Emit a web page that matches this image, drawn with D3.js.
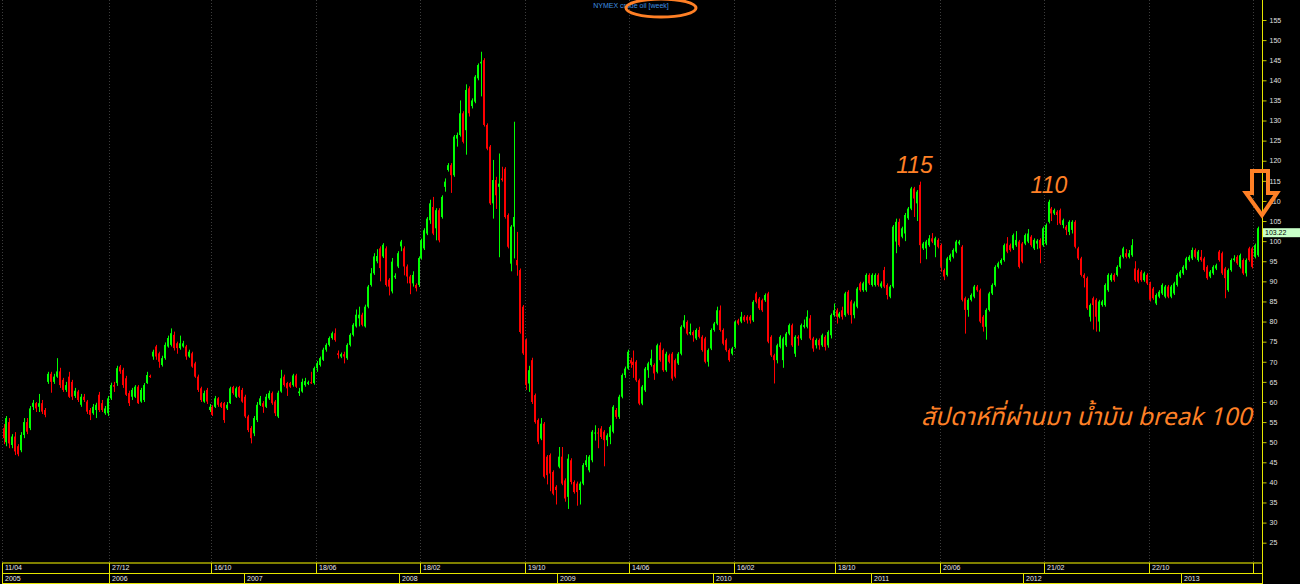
<!DOCTYPE html>
<html><head><meta charset="utf-8">
<script src="https://cdn.jsdelivr.net/npm/d3@7"></script>
<style>html,body{margin:0;padding:0;background:#000;overflow:hidden}svg{display:block}</style>
</head><body><svg id="c" width="1300" height="584"></svg>
<script>
// ---------- DATA (weekly NYMEX crude oil) ----------
const openP=[53.5,50,55,49.3,51.4,49,48,51.8,55,53.5,58.8,59.7,58.8,59.7,58,65,67,65,66.3,67.6,
65.5,63,66.3,65,61.5,62.6,59.3,61.3,60.1,58,57.2,58,61.8,59.7,57.2,57.2,60.9,64.2,64.7,68.8,
68,65.9,62.2,61.3,61.3,63.8,60.1,60.5,64.7,66.5,71.3,73.8,72.1,69.2,70.9,73.8,74.2,76.7,74.6,73.4,
73.8,73.8,71.3,72.1,69.6,66.3,63.4,60.1,63,58,58.8,58.8,60.9,59.7,59.7,58.4,59.7,63.7,61.3,63.7,
63,61.3,56.4,53.5,52.2,55.5,59.3,59.7,58.8,60.9,62.2,60.1,56.4,62.6,66.3,64.7,64.7,64.2,66.6,62.2,
62.6,64.2,64.5,64.9,64.7,68.4,69.2,70.5,73,74.2,75.9,77.1,72.1,71.3,71.9,70.9,74.2,76.7,78.8,80.8,
81.7,78.8,83.7,89.1,92,95,98.2,96.2,98.2,90.4,87.5,91,93.7,98.7,98.2,93.7,91.2,89.5,89.1,89.1,
95.8,98.2,101.9,105.2,108.5,103.2,107.7,106,113.5,117.7,118.9,116.4,125.5,126.4,131.8,127.6,138,133.6,134.7,140.5,
144.2,145,128.9,123.5,109.4,115.2,113.5,115.6,118,106.5,94.4,103.6,95.3,92.8,83.7,75.4,64.6,70.4,61.7,55.5,
50.9,54.6,46.4,46.8,42.6,38.9,43.9,46.4,40.5,36.4,45.5,40.1,39.7,38.1,39.7,44.3,43,45.5,52.2,52.4,
53.4,52.6,50.5,51.3,52.6,58,56.3,61.3,66.7,68.3,70.4,70,70,65.4,59.6,62.9,67.9,69.2,69.2,67.5,
74.1,72.9,67.9,71.6,72,70.4,69.6,72,78.7,79.9,77,77.4,75.8,77.9,76.2,75.8,70,73.3,77.9,79.5,
82.8,77.9,75.4,72.9,72,73.7,80.3,80,81.2,81.2,81.2,80.3,87,85.7,85.3,85.3,87,76.2,71.6,70.4,
73.7,70.4,74.1,77,79.1,72,76.2,75.8,78.7,78.7,80.8,75.8,74.1,75.4,74.1,76.2,74.1,76.6,81.6,82.8,
81.2,82.8,81.6,87.4,85,81.6,83.7,89.5,87.8,87.8,91.6,89.1,89.1,91.6,88.7,92.8,89.1,86.2,88.7,99.9,
104.8,101.1,101.9,105.7,108.1,113.1,109.4,114,98.2,98.2,99,100.7,99,100.3,99,92.8,91.6,95.3,96.1,97.4,
99.4,98.6,85.8,82.9,85.4,86.2,88.7,87.8,81.2,78.7,82.9,87,89.1,93.6,94.5,95.3,99.4,99,98.2,99,
99.9,99.4,99.4,99.9,101.1,98.2,99.4,100.3,99,99.4,104.8,108.1,106.9,107.3,107.7,104,103.6,102.3,102.8,104.8,
98.2,95.7,91.6,90.8,81.2,85.8,85.4,80,84.1,84.1,87.8,90.3,91.6,91.6,93.6,96.1,97,96.1,96.5,93.2,
92.8,92.4,90.3,91.6,89.5,88.2,84.5,86.2,87,86.2,88.7,86.2,87,89.1,91.2,92,93.2,95.3,95.7,97.8,
95.3,96.1,95.7,93.6,91.2,92,93.2,97.4,97,93.2,87.8,92.8,95.3,96.1,93.6,95.3,92,98.2,98.2,96.1,
96.5];
const highP=[54.5,56.5,56,52,52.5,49.5,52.5,56,56,59,60.5,60,62,60.5,58.5,67.5,67.5,67,70.9,68.5,
66,65,67.5,65.5,63.5,63,62,62,60.5,58.5,59.5,59.8,62.5,60.5,59,61.5,64.8,65,69,69.2,
68.5,66.5,62.8,63.5,64.2,64.2,63.5,64.7,67.5,66.8,73,74.2,72.5,71.5,74.8,76.5,78.3,77.5,75,76.5,
75.2,74.2,73,72.5,70,66.8,63.8,62.8,63.5,59.5,59.2,61.5,61.2,60,60,60,63.8,64,63.8,64,
63.5,61.8,56.8,54,56.5,60,61.5,60.2,62,62.8,62.6,60.5,62.8,68,66.8,65,65,67,67,63.5,
65.8,66,65.3,67.5,68.8,70.2,71.3,73.5,74.6,76.3,77.5,78.3,72.8,72.3,72.5,74.6,77.1,79.6,83,83.7,
82.2,84.2,89.1,93.3,97,98,98.7,99.5,98.7,90.8,95.8,92,97.5,100.3,98.7,94.2,91.6,92.5,89.5,96.2,
100.6,103.2,106,110.3,111,108.2,108.2,111.4,115.6,119.4,119.4,126.4,127,135,132.3,139,138.5,135.5,141.3,144.2,
147.1,145.5,129.3,123.9,120.2,116,121.8,118.5,118.4,106.9,104,129.7,102.3,93.2,84.1,75.8,69,71,62.1,55.9,
56,55,46.8,47.2,43,39.3,48.8,48.8,41,47,46,40.5,40.2,40.2,44.8,46.8,46.8,53,54.2,53.5,
54,53,52.2,54.2,59.2,58.5,61.8,67.1,68.8,73,71,72.8,70.4,65.8,64.2,68.7,70,73,69.6,74.5,
74.8,73.3,72.5,72,72.4,70.8,72.4,79.1,81.6,80.3,79.5,77.8,78.3,78.7,76.6,76.2,73.3,78.3,79.9,83.7,
84,78.3,75.8,73.3,73.7,80.3,80.7,82.4,81.6,81.6,81.6,85.3,87.4,86.1,85.7,87,87.4,76.6,72,74.5,
76.6,76.2,77.4,79.5,79.5,76.6,76.6,79.5,80.5,82.8,81.6,76.2,75.8,75.8,77,76.6,77.8,82,84.5,83.3,
82.4,83.7,87.4,87.8,85.4,85,88.6,89.9,89.9,92,92,92,92,92,90,93.6,89.5,89.1,104,105.6,
105.6,103.6,107,108.5,113.5,113.5,112.7,114.8,99.8,100.3,101.5,102,101.1,100.7,99.4,93.2,96.1,96.9,98.2,100.3,
100.3,99,86.2,85.8,87,89.1,89.1,88.2,81.6,83.3,87.4,89.5,94,94.9,95.7,99.4,101,99.4,101.9,102.5,
100.3,99.8,101.9,103,101.5,100.7,100.5,100.7,103.6,104.4,110.3,108.5,108.1,107.7,108.1,105.6,104,105.2,105.2,105.2,
98.6,96.1,92,91.2,84.5,86.2,85.8,85.4,85.4,89.5,92,92,92,94,96.5,98.6,98,97.8,100.5,95,
93.2,92.8,92.4,92,89.9,88.6,87,87.8,89.5,89.1,89.1,89.1,89.9,92,92.8,94,96.1,96.5,98.4,98.2,
97.8,97.8,96.1,94,92.8,94,94.4,97.8,97.4,93.6,93.2,95.7,96.5,96.5,96.9,95.7,95.7,98.6,98.6,99.4,
103.6];
const lowP=[49.5,49,48.5,48.5,46.8,46.5,47.5,51,52,53,58,57.5,57.5,57,56.2,64.5,62.3,64.5,66,63.5,
62.5,62.5,61,60.5,61,60,58.8,60,57,55.5,56.8,56,57.5,57.5,56.8,56.5,60.5,62.5,64,67,
63.5,61.5,59,60.5,61,59.5,59.8,60,64.5,66,70.5,70.5,68.5,68.8,70.5,73.5,73.8,72.8,72,73,
73.5,70.5,71,68.5,66,62.5,60,59.8,59.5,57.5,56.5,58.5,58.8,58.5,54.8,58,59.5,61.8,61,61,
59.8,56,52.5,49.7,51.5,55,59,57.3,58.5,60.5,59.3,56.5,56,62.3,63.8,61.5,63.5,63.8,63.5,61.5,
62.3,63.8,64.2,64.5,64.3,67.5,68.8,70.2,72.5,73.8,75.5,75,70.8,70.9,69.6,70.5,73.8,76.3,78.5,78.8,
78.8,78.5,83.3,88.7,91.6,94.5,90,95.8,88.7,86.5,87,90.6,93.3,97.5,91.5,89.5,86.8,88.7,87.5,88.6,
95.4,97.8,101.5,104.3,101.5,100.2,99.7,105.6,112.3,117.3,112,116,123.5,126,124.3,121.5,131,133,134.3,140,
136,128.5,122.6,109,105.6,108,96,114.8,105.6,98.2,92.5,95.7,91.4,77,71.7,63,62.5,59.5,54.6,49.5,
50.5,41,39.5,37.8,36.8,34.5,43.5,39.3,35.2,33.4,39.5,37.2,34.2,34.5,39.3,43.8,42.5,45,50.4,48.5,
50.8,44,49,49.5,52.2,55.8,55.8,60.9,66,68,68.5,66,65,59.2,59.2,62.5,66,68.8,65.5,67.1,
70,67.5,67.5,69.6,65.3,65.9,69.2,71.6,78.3,76.6,76.6,75,75.4,75.8,72.5,69.6,68.8,72.9,77.5,79.1,
77.5,74.1,72.5,70,71.6,73.3,79.1,79.6,79.9,79.5,79.5,79.9,84.5,82.9,82.4,84.9,74.6,71.2,64.6,69.6,
73.3,68.5,73.7,76.6,73.7,71.2,74,75.4,78.3,78.3,75.4,72.5,73.3,73,73.7,72.8,73.5,75.8,81.2,79.5,
80.8,80.5,81.2,81.6,79.5,80.8,83.3,87.4,87.4,87.4,89.1,88.7,88.7,88.7,88.3,88.3,85.5,85.8,88.3,97,
98.6,100.7,100,105.3,107.7,106,105,94.5,97.8,95.5,98.6,99.5,96,98.2,92.4,90.3,91.2,94.9,95.7,97,
99,85,77,81.2,85,85.8,87.4,79.6,77.5,75.5,82.5,86.6,88.7,93.2,94.1,94.9,97,97.4,97.8,98.6,
93.2,94.5,99,99.5,98.6,97.8,98,94.5,98.6,99,104.4,105,106.5,104,104,103.2,101.5,101.5,101.9,98.2,
95.3,91.2,88.5,82.9,80,78,77.5,77.5,83.7,83.7,87.4,89.9,89.9,91.2,93.2,95.7,95.7,95.7,96.1,89.9,
89.5,89.9,89.9,89.1,85,85.4,84.1,85.8,86.6,85.8,85.8,85.8,86.6,88.7,90.8,91.6,92.8,94.9,95.3,95.7,
94.9,94.9,92.4,90.4,90.8,91.6,92.8,94.9,91.6,85.8,87.4,92.4,94.9,94.1,93.2,91.6,91.2,94.9,93.2,95.7,
96.1];
const closeP=[51,56,49.7,51.4,47.7,47,51.8,55,52.6,58.4,59.8,58.4,59.7,57.6,56.8,67,65,66.3,67.6,64.2,
63,64.2,61.3,61.3,62.8,60.5,61.3,60.5,57.6,56.8,58.8,59.3,58,58,58.4,60.9,64.2,63.8,68.4,67.6,
64.2,61.8,59.7,63,63.8,59.7,63,64.2,66.7,66.2,72.5,71.3,70,70.9,74.2,75.9,77.1,73.4,73.4,74.6,
74.6,71.3,72.5,68.8,66.3,63,60.5,62.2,60.1,58.8,56.8,60.9,59.3,58.8,55.5,59.3,63.4,62.2,63.4,61.3,
60.1,56.4,53,51,56,59.3,60.9,58.8,61.3,62.2,59.7,57.2,62.3,65.9,64.2,63.4,63.8,66.6,63.8,62.6,
65,65.2,64.9,64.7,68.4,69.6,70.9,73,74.2,75.9,77.1,75.4,71.7,71.9,71.3,74.2,76.7,79.2,81.7,81.7,
79.2,83.7,88.7,92,96.2,96.3,93.3,99.1,89.1,88.7,94.9,91.4,97,99.9,93.7,91.2,89.5,91.6,88.3,95.8,
100.2,102.7,105.6,109.4,101.9,107.7,100.2,111,114.8,118.9,116.4,126,126.4,131.8,124.7,137.6,131.8,135,140.9,143.8,
144.6,128.9,123,109.4,115.2,111.4,114.3,115.2,106,98.6,103.6,106,94,77.4,72.1,64.2,67.9,60,55,50.1,
54.6,41.4,41.8,42.2,37.2,38.1,46.4,39.7,36,45.9,40.1,37.6,37.6,39.7,44.3,45.5,46.4,52.6,52.4,52.2,
51.3,50.5,51.7,53.8,58.8,56.3,61.3,66.7,68.3,72.5,69.6,69.2,65.4,59.6,63.8,68.3,69.6,70.8,67.1,74.1,
70.4,67.9,72,70,65.8,66.3,72,78.7,80.3,77,77.4,76.6,77.9,76.2,72.9,70,72.9,77.9,79.5,82.8,
77.9,74.5,72.9,70.4,73.3,79.9,79.5,81.2,80.3,80.3,80.3,84.9,84.9,83.3,82.8,86.6,75,71.6,70.4,74.1,
76.2,75.8,77,79.1,74.1,76.2,75.8,79.1,79.1,81.2,75.8,73.3,75.4,74.1,76.6,73.7,77.4,81.6,82.8,81.2,
82,81.2,87,82,81.6,84.5,88.2,87.8,89.5,91.6,89.5,91.6,91.6,89.1,89.5,88.7,86.6,88.7,103.6,104.8,
99,103.2,106.5,108.1,113.1,110.6,112.3,99,99.4,99.9,100.7,99.9,100.7,98.6,93.6,91.2,95.7,96.5,97.8,99.9,
99.9,85.4,82.9,85.4,86.6,88.7,87.8,80,78.7,82.9,87,89.1,93.6,94.5,95.3,99,97.4,97.8,101.5,100.3,
93.6,94.9,101.5,101.9,99,100.3,100.1,98.2,103.2,104,109.8,106.9,107.7,106.5,104.4,105.2,102.8,104.8,104.8,98.6,
95.7,91.6,90.8,83.3,84.1,84.1,81.2,85,85,89.1,91.6,91.6,90.3,93.6,96.1,98.2,96.1,97,99,90.3,
89.9,90.3,92,89.5,85.4,85.8,86.6,87.4,89.1,88.7,86.2,88.7,89.5,91.6,92.4,93.6,95.7,96.1,97.8,96.1,
97.4,95.3,92.8,90.8,92.4,93.6,94,95.3,92,90.8,92.8,95.3,95.7,94.5,96.5,92,95.3,95.3,93.6,99,
103.22];

const priceTicks=[25,30,35,40,45,50,55,60,65,70,75,80,85,90,95,100,105,110,115,120,125,130,135,140,145,150,155];
const dateTickIdx=[0,36,70,105,140,175,210,245,279,314,349,384,419];
const dateTickLabels=["11/04","27/12","16/10","18/06","18/02","19/10","14/06","16/02","18/10","20/06","21/02","22/10",""];
const yearStartIdx=[0,36,81,133,186,238,291,342,395];
const yearLabels=["2005","2006","2007","2008","2009","2010","2011","2012","2013"];
const titleText="NYMEX crude oil [week]";
const notes=[{t:"115",i:299,v:115},{t:"110",i:344,v:110}];
const thaiNote="สัปดาห์ที่ผ่านมา น้ำมัน break 100";

// ---------- CHART ----------
const W=1300,H=584;
const svg=d3.select("#c");
svg.append("rect").attr("width",W).attr("height",H).attr("fill","#000");
const n=closeP.length;
const x=d3.scaleLinear().domain([0,n-1]).range([3.5,1257.5]);
const y=d3.scaleLinear().domain([25,155]).range([542.7,20]);
const axisX=1262.5;
const divX=i=>Math.round(x(i)-1.5)+0.5;
const smallFont="7px Arial, 'Liberation Sans', sans-serif";

// vertical dotted grid
svg.append("g").selectAll("line").data(dateTickIdx).join("line")
  .attr("x1",divX).attr("x2",divX).attr("y1",0).attr("y2",562)
  .attr("stroke","#3c3c3c").attr("stroke-dasharray","1,2");

// candles
const green="#00ff00",red="#ff0000";
const cg=svg.append("g");
const idx=d3.range(n);
cg.selectAll("line.w").data(idx).join("line").attr("class","w")
  .attr("x1",i=>Math.round(x(i))+0.5).attr("x2",i=>Math.round(x(i))+0.5)
  .attr("y1",i=>y(highP[i])).attr("y2",i=>y(lowP[i]))
  .attr("stroke",i=>closeP[i]>=openP[i]?green:red).attr("stroke-width",1);
cg.selectAll("rect.b").data(idx).join("rect").attr("class","b")
  .attr("x",i=>Math.round(x(i))-1).attr("width",2)
  .attr("y",i=>y(Math.max(openP[i],closeP[i])))
  .attr("height",i=>Math.max(1,Math.abs(y(openP[i])-y(closeP[i]))))
  .attr("fill",i=>closeP[i]>=openP[i]?green:red);

// right axis
const ax=svg.append("g").attr("transform",`translate(${axisX},0)`)
  .call(d3.axisRight(y).tickValues(priceTicks).tickSize(4).tickPadding(3).tickFormat(d3.format("d")));
ax.select(".domain").remove();
ax.selectAll(".tick line").attr("stroke","#c8c800");
ax.selectAll(".tick text").attr("fill","#e0e0e0").style("font",smallFont);
svg.append("line").attr("x1",axisX).attr("x2",axisX).attr("y1",0).attr("y2",H).attr("stroke","#e6e600");

// last price box
const last=closeP[n-1];
svg.append("rect").attr("x",1263).attr("y",y(last)).attr("width",37).attr("height",9).attr("fill","#c8ffc8");
svg.append("text").attr("x",1265).attr("y",y(last)+7).text(d3.format(".2f")(last))
  .attr("fill","#000").style("font",smallFont);

// bottom time rows
const bg=svg.append("g");
bg.append("rect").attr("x",2).attr("y",562).attr("width",axisX-2).attr("height",2).attr("fill","#808000");
bg.append("line").attr("x1",2).attr("x2",axisX).attr("y1",573.5).attr("y2",573.5).attr("stroke","#e6e600");
bg.append("line").attr("x1",2).attr("x2",axisX).attr("y1",583.5).attr("y2",583.5).attr("stroke","#e6e600");
bg.selectAll("line.d").data(dateTickIdx).join("line").attr("class","d")
  .attr("x1",divX).attr("x2",divX).attr("y1",563).attr("y2",573).attr("stroke","#e6e600");
bg.selectAll("text.d").data(dateTickIdx).join("text").attr("class","d")
  .attr("x",i=>divX(i)+2.5).attr("y",570).text((d,k)=>dateTickLabels[k])
  .attr("fill","#e8e8e8").style("font",smallFont);
bg.selectAll("line.yr").data(yearStartIdx).join("line").attr("class","yr")
  .attr("x1",divX).attr("x2",divX).attr("y1",574).attr("y2",584).attr("stroke","#e6e600");
bg.selectAll("text.yr").data(yearStartIdx).join("text").attr("class","yr")
  .attr("x",i=>divX(i)+2.5).attr("y",581).text((d,k)=>yearLabels[k])
  .attr("fill","#e8e8e8").style("font",smallFont);

// title
svg.append("text").attr("x",631).attr("y",8).attr("text-anchor","middle").text(titleText)
  .attr("fill","#3f90e0").style("font",smallFont);

// annotations
const orange="#ff8026";
svg.append("ellipse").attr("cx",661).attr("cy",8).attr("rx",35).attr("ry",9)
  .attr("fill","none").attr("stroke",orange).attr("stroke-width",3);
svg.selectAll("text.note").data(notes).join("text").attr("class","note")
  .attr("x",d=>x(d.i)).attr("y",d=>y(d.v)-8).text(d=>d.t)
  .attr("fill",orange).style("font","italic 23px Arial, 'Liberation Sans', sans-serif");
svg.append("text").attr("x",921).attr("y",425).text(thaiNote)
  .attr("fill",orange).style("font","italic 24.5px Tahoma, 'Noto Sans Thai', 'Noto Sans', 'DejaVu Sans', sans-serif");
// down arrow
const ay=y(last);
svg.append("path")
  .attr("d",`M1252,171 L1268,171 L1268,193 L1277,193 L1262,${ay-13} L1246,193 L1252,193 Z`)
  .attr("fill","none").attr("stroke",orange).attr("stroke-width",4).attr("stroke-linejoin","miter");
</script>
</body></html>
